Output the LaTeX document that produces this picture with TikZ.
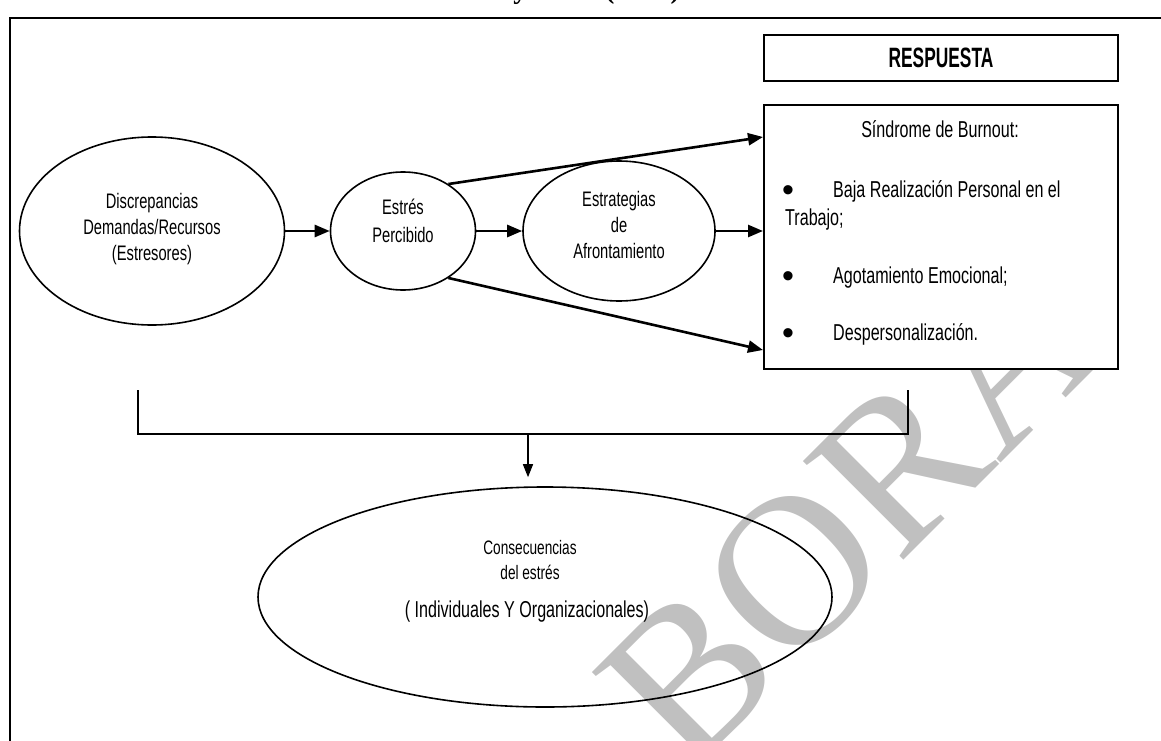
\documentclass[tikz,border=0pt]{standalone}
\usepackage{fontspec}
\setmainfont{Liberation Sans}[FakeStretch=0.7]
\newfontfamily\headfont{Liberation Sans}[FakeStretch=0.62]
\newfontfamily\bulletfont{Liberation Sans}
\newfontfamily\titlefont{Liberation Serif}
\newfontfamily\wmfont{Liberation Serif}
\usetikzlibrary{arrows.meta,shapes.geometric,calc}
\definecolor{wmgray}{RGB}{192,192,192}
\begin{document}
\begin{tikzpicture}[x=1pt,y=-1pt,
  oval/.style={draw,ellipse,line width=1.6pt,inner sep=0pt},
  panel/.style={draw,fill=white,line width=2pt,inner sep=0pt},
  flow/.style={line width=2.6pt,-{Triangle[length=15pt,width=12pt]}},
  ovaltext/.style={align=center,inner sep=0pt,font=\fontsize{21}{26}\selectfont},
  boxtext/.style={anchor=base west,inner sep=0pt,font=\fontsize{23}{28}\selectfont},
  dot/.style={anchor=base,inner sep=0pt,font=\bulletfont\fontsize{34}{34}\selectfont}
]
\useasboundingbox (0,0) rectangle (1161,741);
\clip (0,0) rectangle (1161,741);

% draft watermark
\node[rotate=45,anchor=base west,inner sep=0pt,text=wmgray,
      font=\wmfont\fontsize{215}{215}\selectfont] (wm) at (687,777) {BORA};

% heading of the page, mostly above the frame
\node[anchor=base east,inner sep=0pt,font=\titlefont\bfseries\fontsize{28}{28}\selectfont]
  (title) at (680,-1) {Gil-Monte y Peiró (1997)};

% frame
\coordinate (fbl) at (10,770);
\coordinate (ftl) at (10,18);
\coordinate (ftr) at (1180,18);
\draw[line width=2.2pt] (fbl) -- (ftl) -- (ftr);

% process ovals
\node[oval,minimum width=265pt,minimum height=188pt] (e1) at (152,231) {};
\node[ovaltext] (t1) at (152,229) {Discrepancias\\Demandas/Recursos\\(Estresores)};

\node[oval,minimum width=145pt,minimum height=118pt] (e2) at (403,231) {};
\node[ovaltext,font=\fontsize{21}{28}\selectfont] (t2) at (403,221) {Estrés\\Percibido};

\node[oval,minimum width=192pt,minimum height=140pt] (e3) at (619,231) {};
\node[ovaltext] (t3) at (619,225) {Estrategias\\de\\Afrontamiento};

% response boxes
\node[panel,minimum width=354pt,minimum height=46pt,anchor=north west] (resp) at (763,34) {};
\node[inner sep=0pt,font=\headfont\bfseries\fontsize{28}{28}\selectfont] (resptext) at (resp.center) {RESPUESTA};

\node[panel,minimum width=354pt,minimum height=264pt,anchor=north west] (sb) at (763,104) {};
\node[anchor=base,inner sep=0pt,font=\fontsize{23}{28}\selectfont] (sbhead) at (940,138) {Síndrome de Burnout:};
\node[dot] (d1) at (788,201) {•};
\node[boxtext] (b1) at (833,197) {Baja Realización Personal en el};
\node[boxtext] (b1b) at (785,225) {Trabajo;};
\node[dot] (d2) at (788,287) {•};
\node[boxtext] (b2) at (833,283) {Agotamiento Emocional;};
\node[dot] (d3) at (788,344) {•};
\node[boxtext] (b3) at (833,340) {Despersonalización.};

% consequences
\node[oval,minimum width=574pt,minimum height=220pt] (e4) at (545,597) {};
\node[ovaltext,font=\fontsize{19.5}{25}\selectfont] (t4) at (530,560) {Consecuencias\\del estrés};
\node[inner sep=0pt,font=\fontsize{23}{28}\selectfont] (t4b) at (527,612) {( Individuales Y Organizacionales)};

% arrows
\draw[flow] (e1.east) -- (e2.west);
\draw[flow] (e2.east) -- (e3.west);
\draw[flow] (e3.east) -- (e3.east -| sb.west);
\draw[flow] (e2.46) -- ([yshift=-33pt]sb.north west);
\draw[flow] (e2.-46) -- ([yshift=20pt]sb.south west);

% bracket gathering the process into its consequences
\coordinate (bl) at (138,390);
\coordinate (blc) at (138,434);
\coordinate (brc) at (908,434);
\coordinate (br) at (908,390);
\coordinate (bm) at (528,434);
\draw[line width=1.3pt] (bl) -- (blc) -- (brc) -- (br);
\draw[line width=1.5pt,-{Triangle[length=13pt,width=10pt]}] (bm) -- ($(bm |- e4.north)+(0,-9)$);
\end{tikzpicture}
\end{document}
